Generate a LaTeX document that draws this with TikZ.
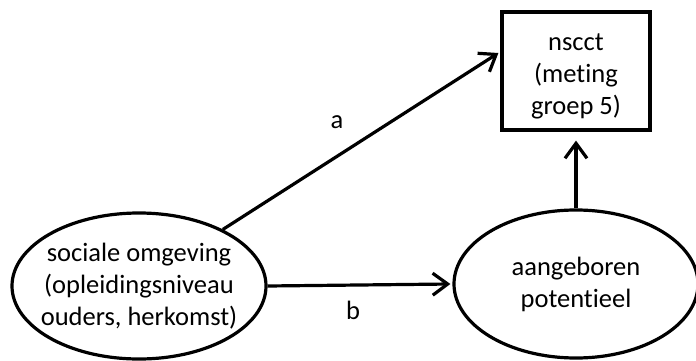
\documentclass[tikz,border=0pt]{standalone}
\usepackage{fontspec}
\setmainfont{Carlito}[Ligatures=NoCommon]
\usetikzlibrary{shapes.geometric,arrows.meta}
\begin{document}
\begin{tikzpicture}[x=1pt,y=-1pt,
  every node/.style={font=\fontsize{26.5}{32}\selectfont, align=center, inner sep=0pt},
  oval/.style={ellipse, draw, line width=3.2pt},
  boxnode/.style={rectangle, draw, line width=3.2pt},
  conn/.style={line width=3.2pt, -{Straight Barb[length=15pt,width=22pt,line width=3.2pt]}},
  lbl/.style={font=\fontsize{26.5}{32}\selectfont}]
\useasboundingbox (0,0) rectangle (696,361);
\node[oval, inner xsep=-10pt, inner ysep=-10pt, minimum width=254pt, minimum height=146pt] (soc) at (139,286)
  {sociale omgeving\\(opleidingsniveau\\ouders, herkomst)};
\node[oval, minimum width=244pt, minimum height=148pt] (aan) at (576,284)
  {aangeboren\\potentieel};
\node[boxnode, minimum width=148pt, minimum height=118pt] (nsc) at (576,71)
  {\raisebox{-5pt}[\height][\depth]{\begin{tabular}{@{}c@{}}nscct\\(meting\\groep 5)\end{tabular}}};
\coordinate (aend) at ([xshift=-2pt]nsc.west |- 0,53);
\draw[conn] (soc.34) -- (aend);
\draw[conn] (soc.east) -- ([xshift=-2pt]aan.west);
\draw[conn] (aan.north) -- ([yshift=-9pt]nsc.south);
\node[lbl] (la) at (337,122) {a};
\node[lbl] (lb) at (353,310) {b};
\end{tikzpicture}
\end{document}
